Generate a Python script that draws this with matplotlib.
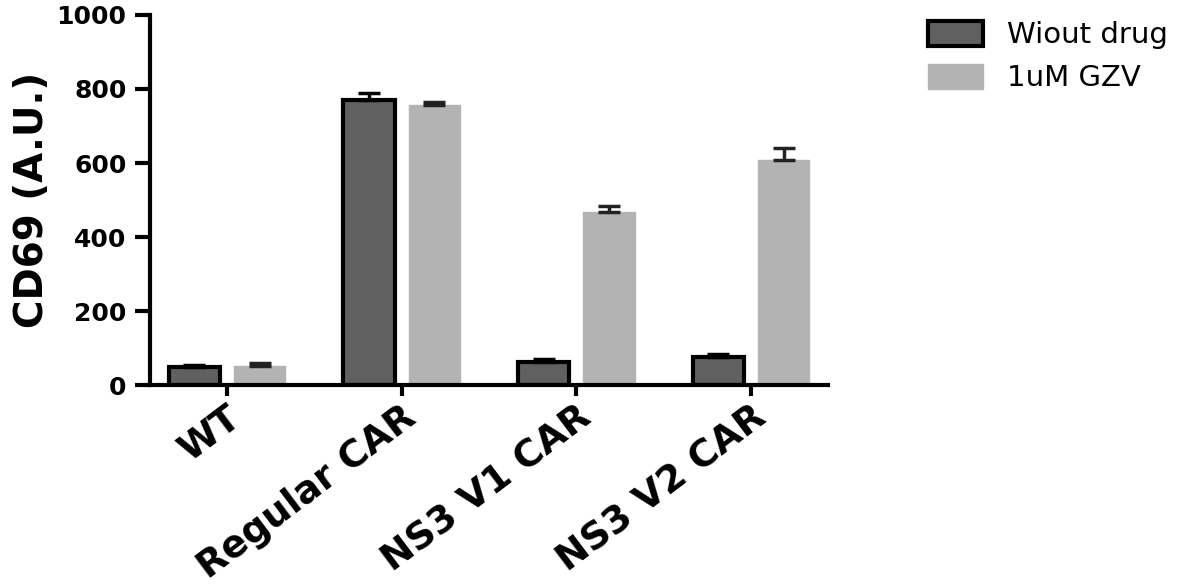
import matplotlib
matplotlib.use("Agg")
import matplotlib.pyplot as plt
import matplotlib.transforms as mtransforms
import numpy as np

# CD69 expression per construct, with and without grazoprevir
categories = ["WT", "Regular CAR", "NS3 V1 CAR", "NS3 V2 CAR"]
series_labels = ["Wiout drug", "1uM GZV"]
no_drug = [50, 770, 63, 77]
no_drug_err = [3, 20, 7, 8]
gzv = [52, 757, 468, 608]
gzv_err = [8, 8, 16, 32]
y_ticks = [0, 200, 400, 600, 800, 1000]

plt.rcParams["font.family"] = ["DejaVu Sans"]

fig = plt.figure(figsize=(11.85, 5.88), dpi=100)
ax = fig.add_axes([0.1266, 0.3452, 0.5721, 0.6293])

x = np.arange(len(categories))
width = 0.293
offset = 0.187

dark_face = "#606060"
light_face = "#b3b3b3"

b1 = ax.bar(x - offset, no_drug, width, color=dark_face, edgecolor="black",
            linewidth=3, label=series_labels[0], zorder=2)
b2 = ax.bar(x + offset, gzv, width, color=light_face, edgecolor=light_face,
            linewidth=1, label=series_labels[1], zorder=2)

ax.errorbar(x - offset, no_drug, yerr=[np.zeros(len(no_drug)), no_drug_err],
            fmt="none", ecolor="black", elinewidth=2.5, capsize=8, capthick=2.5, zorder=3)
ax.errorbar(x + offset, gzv, yerr=[np.zeros(len(gzv)), gzv_err],
            fmt="none", ecolor="#222222", elinewidth=2.5, capsize=8, capthick=2.5, zorder=3)

ax.set_xlim(-0.44, 3.44)
ax.set_ylim(0, 1000)
ax.set_yticks(y_ticks)
ax.set_yticklabels([str(v) for v in y_ticks], fontsize=18, fontweight="bold")
ax.set_xticks(x)
ax.set_xticklabels(categories, fontsize=27, fontweight="bold", rotation=37,
                   ha="right", rotation_mode="anchor")

# nudge the slanted category labels so their upper ends sit under the ticks
shift = mtransforms.ScaledTranslation(-8 / 100, 4 / 100, fig.dpi_scale_trans)
for lbl in ax.get_xticklabels():
    lbl.set_transform(lbl.get_transform() + shift)

ax.set_ylabel("CD69 (A.U.)", fontsize=28, fontweight="bold", labelpad=4)

for side in ("top", "right"):
    ax.spines[side].set_visible(False)
for side in ("left", "bottom"):
    ax.spines[side].set_linewidth(3)

ax.tick_params(axis="y", length=11, width=3, pad=6)
ax.tick_params(axis="x", length=8, width=3, pad=2)

ax.legend(handles=[b1, b2], labels=series_labels, loc="upper left",
          bbox_to_anchor=(0.783, 0.965), bbox_transform=fig.transFigure,
          frameon=False, fontsize=21, handlelength=1.9, handleheight=0.95,
          handletextpad=0.8, labelspacing=0.5, borderpad=0, borderaxespad=0)

fig.savefig("out.png", dpi=100)
